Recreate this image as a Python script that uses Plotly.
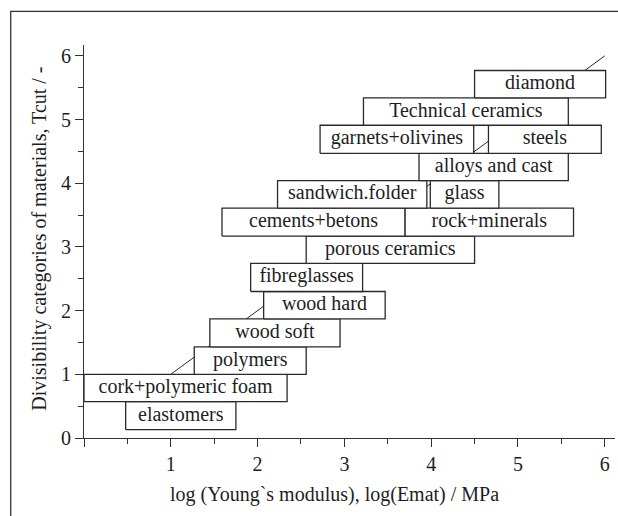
import plotly.graph_objects as go

# Material boxes: name, log(E) range (x), Tcut band (y)
materials = ["elastomers", "cork+polymeric foam", "polymers", "wood soft", "wood hard",
             "fibreglasses", "porous ceramics", "cements+betons", "rock+minerals",
             "sandwich.folder", "glass", "alloys and cast", "garnets+olivines", "steels",
             "Technical ceramics", "diamond"]
x_min = [0.48, 0.00, 1.27, 1.45, 2.07, 1.92, 2.56, 1.59, 3.70, 2.23, 3.99, 3.86, 2.72, 4.66, 3.22, 4.50]
x_max = [1.75, 2.34, 2.56, 2.95, 3.47, 3.21, 4.50, 3.70, 5.64, 3.95, 4.78, 5.58, 4.49, 5.96, 5.58, 6.01]
y_low = [0.13, 0.57, 1.00, 1.43, 1.87, 2.30, 2.74, 3.17, 3.17, 3.61, 3.61, 4.04, 4.47, 4.47, 4.91, 5.34]
y_high = [0.57, 1.00, 1.43, 1.87, 2.30, 2.74, 3.17, 3.61, 3.61, 4.04, 4.04, 4.47, 4.91, 4.91, 5.34, 5.77]

# Trend line log(E) vs Tcut
trend_x = [1.0, 6.0]
trend_y = [1.0, 6.0]

x_ticks = [0, 1, 2, 3, 4, 5, 6]
x_ticktext = ["", "1", "2", "3", "4", "5", "6"]
y_ticks = [0, 1, 2, 3, 4, 5, 6]
y_ticktext = ["0", "1", "2", "3", "4", "5", "6"]

FONT = "Liberation Serif"
INK = "#1e1e1e"
EDGE = "#2a2a2a"

fig = go.Figure()
fig.add_trace(go.Scatter(x=trend_x, y=trend_y, mode="lines",
                         line=dict(color=EDGE, width=1), showlegend=False, hoverinfo="skip"))

for name, a, b, lo, hi in zip(materials, x_min, x_max, y_low, y_high):
    fig.add_trace(go.Scatter(x=[a, b, b, a, a], y=[lo, lo, hi, hi, lo], mode="lines",
                             fill="toself", fillcolor="white",
                             line=dict(color=EDGE, width=1.3), showlegend=False,
                             hoverinfo="skip"))

fig.add_trace(go.Scatter(x=[(a + b) / 2 for a, b in zip(x_min, x_max)],
                         y=[(lo + hi) / 2 for lo, hi in zip(y_low, y_high)],
                         mode="text", text=materials,
                         textfont=dict(family=FONT, size=20, color=INK),
                         textposition="middle center", showlegend=False, hoverinfo="skip"))

axis_common = dict(showgrid=False, zeroline=False, showline=True, linecolor="#333333",
                   linewidth=1, ticks="outside", ticklen=8, tickwidth=1, tickcolor="#333333",
                   tickfont=dict(family=FONT, size=20, color=INK),
                   minor=dict(dtick=0.5, tick0=0, ticks="outside", ticklen=5, tickwidth=1,
                              tickcolor="#333333"))

fig.update_xaxes(range=[0, 6.118], tickmode="array", tickvals=x_ticks, ticktext=x_ticktext,
                 **axis_common)
fig.update_yaxes(range=[0, 6.17], tickmode="array", tickvals=y_ticks, ticktext=y_ticktext,
                 **axis_common)

fig.add_annotation(text="log (Young`s modulus), log(Emat) / MPa", xref="paper", yref="paper",
                   x=0.471, y=-0.144, xanchor="center", yanchor="middle", showarrow=False,
                   font=dict(family=FONT, size=20, color=INK))
fig.add_annotation(text="Divisibility categories of materials, Tcut / -", xref="paper",
                   yref="paper", x=-0.0829, y=0.507, xanchor="center", yanchor="middle",
                   textangle=-90, showarrow=False, font=dict(family=FONT, size=20, color=INK))

fig.add_shape(type="rect", xref="paper", yref="paper", x0=-0.138, x1=1.03, y0=-0.3, y1=1.0855,
              line=dict(color="#333333", width=1.3), fillcolor="rgba(0,0,0,0)", layer="below")

fig.update_layout(width=618, height=516, margin=dict(l=84, r=3, t=45, b=78),
                  paper_bgcolor="white", plot_bgcolor="white", showlegend=False,
                  font=dict(family=FONT, color=INK))

fig.write_html("out.html", config={"displayModeBar": False},
               post_script="document.body.style.margin='0';document.body.style.overflow='hidden';")
